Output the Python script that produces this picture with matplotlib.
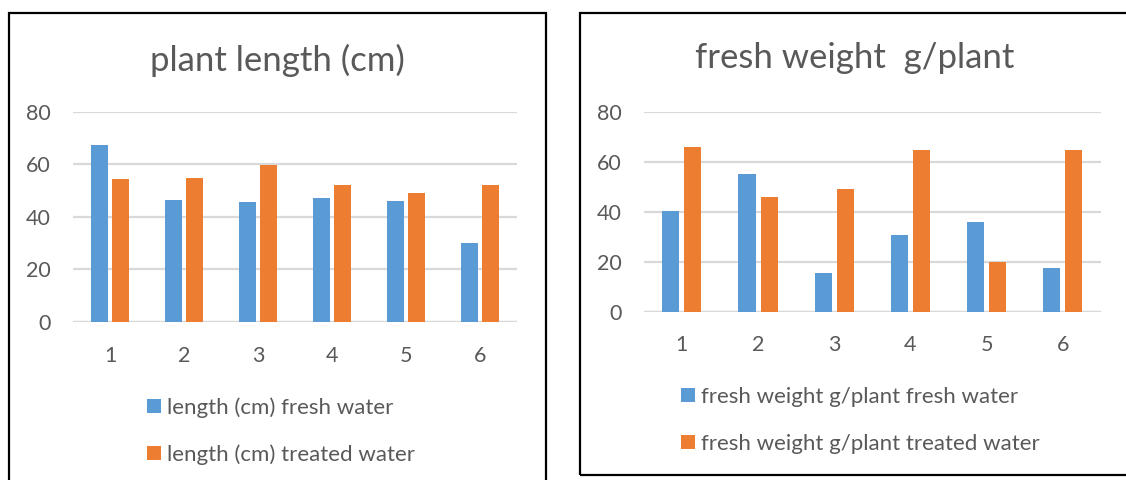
import matplotlib.pyplot as plt
import matplotlib.patches as mpatches
import numpy as np

# datos
muestras = ['1', '2', '3', '4', '5', '6']
largo_agua_dulce = [67.2, 46.5, 45.5, 47.3, 45.9, 29.9]
largo_agua_tratada = [54.5, 54.6, 59.7, 52.1, 49.1, 52.1]
peso_agua_dulce = [40.4, 55.1, 15.5, 30.7, 35.8, 17.5]
peso_agua_tratada = [65.9, 45.9, 49.0, 64.8, 19.9, 64.8]
yticks = [0, 20, 40, 60, 80]

azul = '#5b9bd5'
naranja = '#ed7d31'
gris_texto = '#595959'
plt.rcParams['font.family'] = ['Lato', 'DejaVu Sans']

fig = plt.figure(figsize=(11.26, 4.8), dpi=100)


def dibujar_panel(rect, serie1, serie2, titulo, etiqueta1, etiqueta2, titulo_xy, leyenda_xy):
    ax = fig.add_axes(rect)
    x = np.arange(1, len(muestras) + 1)
    b1 = ax.bar(x - 0.145, serie1, width=0.225, color=azul, label=etiqueta1, zorder=3)
    b2 = ax.bar(x + 0.145, serie2, width=0.225, color=naranja, label=etiqueta2, zorder=3)
    ax.set_xlim(0.5, len(muestras) + 0.5)
    ax.set_ylim(0, 80)
    ax.set_xticks(x)
    ax.set_xticklabels(muestras)
    ax.set_yticks(yticks)
    for s in ax.spines.values():
        s.set_visible(False)
    ax.yaxis.grid(True, color='#d9d9d9', linewidth=1.6, zorder=0)
    ax.axhline(0, color='#d9d9d9', linewidth=1.6, zorder=2)
    ax.set_axisbelow(True)
    ax.tick_params(axis='both', length=0, labelsize=15.5, colors=gris_texto)
    ax.tick_params(axis='y', pad=16)
    ax.tick_params(axis='x', pad=17)
    fig.text(titulo_xy[0], titulo_xy[1], titulo, fontsize=25, color=gris_texto,
             ha='center', va='center')
    fig.legend(handles=[b1, b2], loc='upper left', bbox_to_anchor=leyenda_xy,
               frameon=False, fontsize=16, labelcolor=gris_texto,
               handlelength=0.62, handleheight=0.62, handletextpad=0.28,
               labelspacing=1.2, borderpad=0, borderaxespad=0)
    return ax


dibujar_panel([73 / 1126, 1 - 322 / 480, 444 / 1126, 210.3 / 480],
              largo_agua_dulce, largo_agua_tratada, 'plant length (cm)',
              'length (cm) fresh water', 'length (cm) treated water',
              (277 / 1126, 1 - 60 / 480), (147 / 1126, 1 - 397 / 480))

dibujar_panel([643.8 / 1126, 1 - 311.7 / 480, 457 / 1126, 200 / 480],
              peso_agua_dulce, peso_agua_tratada, 'fresh weight  g/plant',
              'fresh weight g/plant fresh water', 'fresh weight g/plant treated water',
              (855 / 1126, 1 - 58 / 480), (681 / 1126, 1 - 387 / 480))

# marcos negros de cada grafico
fig.patches.append(mpatches.Rectangle((9 / 1126, -0.05), 537 / 1126, 1.05 - 12.7 / 480,
                                      transform=fig.transFigure, fill=False,
                                      edgecolor='black', linewidth=1.6))
fig.patches.append(mpatches.Rectangle((580 / 1126, 1 - 475 / 480), 0.6, (475 - 12.7) / 480,
                                      transform=fig.transFigure, fill=False,
                                      edgecolor='black', linewidth=1.6))

plt.savefig('out.png', dpi=100)
